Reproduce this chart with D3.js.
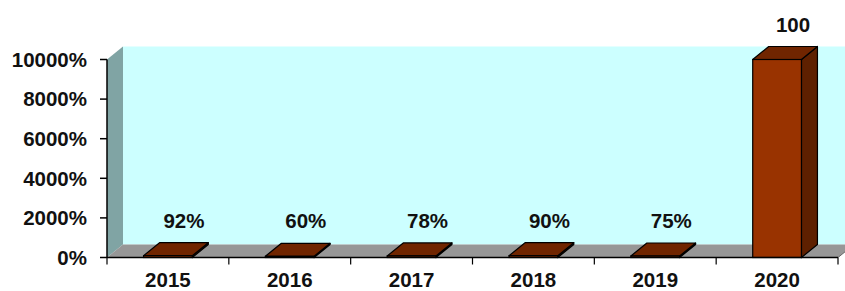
<!DOCTYPE html>
<html><head><meta charset="utf-8">
<script src="https://cdn.jsdelivr.net/npm/d3@7"></script>
<style>html,body{margin:0;padding:0;background:#fff;}svg{display:block;}</style>
</head><body>
<svg id="chart" width="845" height="291"></svg>
<script>
const categories = ["2015","2016","2017","2018","2019","2020"];
const values = [0.92, 0.60, 0.78, 0.90, 0.75, 100];
const dataLabels = ["92%","60%","78%","90%","75%","100"];
const yTicks = [0, 20, 40, 60, 80, 100];

const pLeft = 107, pRight = 838, pBottom = 257.5, pTop = 59.5;
const dx = 16, dy = -13;
const font = "'Liberation Sans', Arial, sans-serif";
const fs = 20.5;

const svg = d3.select("#chart");
const x = d3.scaleBand().domain(categories).range([pLeft, pRight]).paddingInner(0.6).paddingOuter(0.3);
const y = d3.scaleLinear().domain([0, 100]).range([pBottom, pTop]);
const step = x.step();

// back wall
svg.append("rect").attr("x", pLeft + dx).attr("y", pTop + dy)
  .attr("width", pRight - pLeft + 20).attr("height", pBottom - pTop)
  .attr("fill", "#CCFFFF");
// left wall
svg.append("polygon").attr("points", [[pLeft, pTop],[pLeft+dx, pTop+dy],[pLeft+dx, pBottom+dy],[pLeft, pBottom]].join(" "))
  .attr("fill", "#80A4A4");
// floor
svg.append("polygon").attr("points", [[pLeft, pBottom],[pLeft+dx, pBottom+dy],[pRight+dx, pBottom+dy],[pRight, pBottom]].join(" "))
  .attr("fill", "#979797");

// bars
const g = svg.append("g");
categories.forEach((c, i) => {
  const v = values[i];
  const x0 = x(c), x1 = x0 + x.bandwidth();
  const yt = y(v), yb = y(0);
  g.append("polygon").attr("points", [[x1, yt],[x1+dx, yt+dy],[x1+dx, yb+dy],[x1, yb]].join(" "))
    .attr("fill", "#5E2000").attr("stroke", "#000").attr("stroke-width", 1.2).attr("stroke-linejoin","round");
  g.append("polygon").attr("points", [[x0, yt],[x0+dx, yt+dy],[x1+dx, yt+dy],[x1, yt]].join(" "))
    .attr("fill", "#702500").attr("stroke", "#000").attr("stroke-width", 1.2).attr("stroke-linejoin","round");
  g.append("rect").attr("x", x0).attr("y", yt).attr("width", x1 - x0).attr("height", Math.max(0, yb - yt))
    .attr("fill", "#993300").attr("stroke", "#000").attr("stroke-width", 1.2);
  svg.append("text").attr("x", x0 + x.bandwidth()/2 + 16).attr("y", yt + dy - 15)
    .attr("text-anchor", "middle").attr("font-family", font).attr("font-weight", "bold")
    .attr("font-size", fs).attr("fill", "#111").text(dataLabels[i]);
});

// axes lines
svg.append("line").attr("x1", pLeft).attr("x2", pRight).attr("y1", pBottom).attr("y2", pBottom)
  .attr("stroke", "#000").attr("stroke-width", 1.5);
svg.append("line").attr("x1", pLeft).attr("x2", pLeft).attr("y1", pTop).attr("y2", pBottom)
  .attr("stroke", "#000").attr("stroke-width", 1.5);
svg.append("line").attr("x1", pRight).attr("x2", pRight + dx).attr("y1", pBottom).attr("y2", pBottom + dy)
  .attr("stroke", "#666").attr("stroke-width", 1);

// y ticks
yTicks.forEach(t => {
  svg.append("line").attr("x1", pLeft - 7).attr("x2", pLeft).attr("y1", y(t)).attr("y2", y(t))
    .attr("stroke", "#000").attr("stroke-width", 1.5);
  svg.append("text").attr("x", 87).attr("y", y(t)).attr("dy", "0.36em")
    .attr("text-anchor", "end").attr("font-family", font).attr("font-weight", "bold")
    .attr("font-size", fs).attr("fill", "#111").text(d3.format("d")(t * 100) + "%");
});

// x ticks
d3.range(categories.length + 1).forEach(i => {
  const xt = pLeft + i * step;
  svg.append("line").attr("x1", xt).attr("x2", xt).attr("y1", pBottom).attr("y2", pBottom + 7)
    .attr("stroke", "#000").attr("stroke-width", 1.2);
});
categories.forEach(c => {
  svg.append("text").attr("x", x(c) + x.bandwidth()/2).attr("y", 287)
    .attr("text-anchor", "middle").attr("font-family", font).attr("font-weight", "bold")
    .attr("font-size", fs).attr("fill", "#111").text(c);
});
</script>
</body></html>
